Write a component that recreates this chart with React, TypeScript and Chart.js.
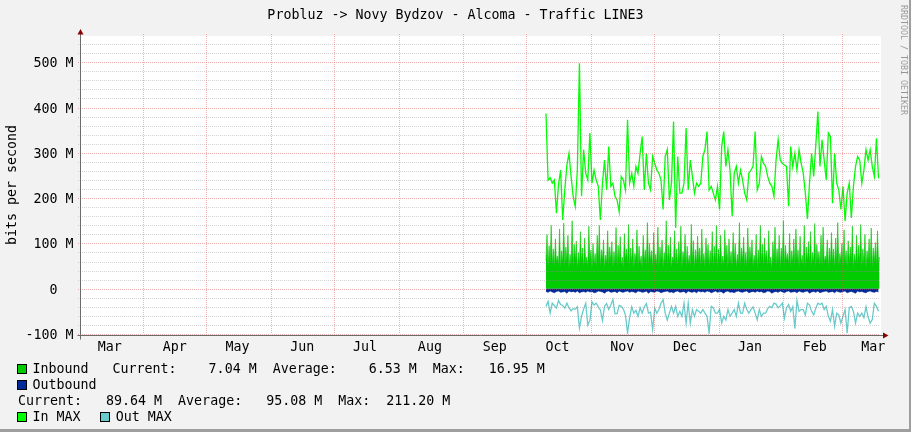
import React, { useEffect, useRef } from "react";
import { Chart, registerables } from "chart.js";

Chart.register(...registerables);

const TITLE = "Probluz -> Novy Bydzov - Alcoma - Traffic LINE3";
const Y_AXIS_TITLE = "bits per second";
const WATERMARK = "RRDTOOL / TOBI OETIKER";

// time axis: days counted from 1 March of the first year
const monthStartDays = [31, 61, 92, 122, 153, 184, 214, 245, 275, 306, 337, 365];
const monthLabels = ["Mar", "Apr", "May", "Jun", "Jul", "Aug", "Sep", "Oct", "Nov", "Dec", "Jan", "Feb", "Mar"];
const monthLabelDays = [15, 46, 76, 107, 137, 168, 199, 229, 260, 290, 321, 352, 380];

const yTickValues = [-100, 0, 100, 200, 300, 400, 500];
const yTickLabels = ["-100 M", "0  ", "100 M", "200 M", "300 M", "400 M", "500 M"];

const firstDay = 223.5; // first sample (~10 Oct)
const inboundStepDays = 0.5;
const dailyStepDays = 1;

// Inbound (M bits/s), two samples per day
const inbound = [
  62, 120, 48, 95, 55, 140, 52, 88, 47, 110, 58, 72, 50, 132, 46, 84,
  57, 145, 49, 92, 60, 118, 45, 76, 53, 150, 48, 98, 61, 105, 44, 80,
  52, 126, 58, 90, 47, 112, 55, 70, 49, 138, 60, 85, 46, 100, 54, 78,
  50, 118, 57, 140, 48, 86, 62, 108, 45, 74, 56, 128, 51, 92, 59, 104,
  47, 82, 55, 135, 49, 96, 58, 115, 52, 70, 46, 122, 60, 88, 53, 142,
  48, 90, 57, 110, 45, 78, 61, 130, 50, 94, 55, 72, 47, 118, 58, 86,
  52, 146, 49, 100, 60, 84, 46, 124, 56, 76, 51, 136, 48, 92, 62, 108,
  45, 80, 58, 150, 50, 96, 55, 114, 47, 70, 60, 128, 52, 88, 49, 104,
  57, 138, 46, 82, 61, 120, 48, 94, 54, 74, 50, 142, 58, 106, 45, 86,
  53, 116, 60, 90, 47, 132, 56, 78, 49, 112, 62, 98, 51, 84, 55, 126,
  48, 94, 57, 140, 46, 88, 59, 118, 52, 72, 50, 130, 61, 96, 47, 110,
  56, 82, 49, 124, 58, 100, 45, 76, 54, 146, 48, 90, 60, 114, 51, 80,
  47, 134, 55, 92, 62, 108, 49, 74, 57, 120, 46, 86, 53, 140, 58, 98,
  50, 112, 61, 84, 48, 128, 55, 70, 46, 104, 59, 136, 52, 88, 56, 118,
  45, 90, 58, 150, 49, 96, 60, 78, 53, 122, 47, 84, 57, 110, 50, 132,
  62, 86, 48, 116, 55, 74, 51, 140, 46, 92, 59, 104, 54, 126, 49, 80,
  57, 144, 47, 98, 60, 82, 52, 118, 48, 136, 56, 72, 61, 108, 45, 90,
  53, 124, 58, 88, 46, 112, 55, 146, 50, 78, 62, 100, 47, 130, 57, 84,
  49, 106, 56, 92, 60, 138, 45, 76, 54, 118, 51, 96, 58, 142, 48, 88,
  55, 120, 47, 84, 61, 110, 52, 134, 46, 90, 58, 102, 50, 128, 56, 70,
];

// Outbound (M bits/s, drawn below zero), daily
const outbound = [
  -6, -8, -5, -7, -9, -6, -5, -8, -7, -6, -10, -5, -7, -6, -8, -5, -9, -7, -6, -8,
  -5, -7, -6, -9, -8, -5, -6, -7, -10, -6, -5, -8, -7, -6, -9, -5, -7, -8, -6, -5,
  -8, -6, -7, -9, -5, -6, -8, -7, -5, -10, -6, -7, -8, -5, -6, -9, -7, -6, -5, -8,
  -7, -9, -6, -5, -8, -7, -6, -10, -5, -7, -8, -6, -9, -5, -7, -6, -8, -5, -6, -9,
  -7, -5, -8, -6, -7, -10, -6, -5, -8, -7, -9, -6, -5, -7, -8, -6, -5, -9, -7, -6,
  -8, -5, -7, -6, -9, -8, -5, -6, -10, -7, -6, -8, -5, -7, -9, -6, -5, -8, -7, -6,
  -9, -5, -7, -8, -6, -5, -10, -7, -6, -8, -5, -9, -7, -6, -5, -8, -7, -6, -9, -5,
  -7, -8, -6, -5, -9, -7, -6, -8, -10, -5, -7, -6, -8, -9, -6, -5, -7, -8, -6, -7,
];

// In MAX (M bits/s), daily
const inMax = [
  387, 240, 245, 233, 240, 167, 230, 262, 152, 218,
  273, 299, 248, 204, 182, 262, 498, 204, 307, 255,
  240, 344, 233, 262, 240, 226, 152, 233, 284, 218,
  314, 226, 233, 204, 196, 170, 248, 240, 218, 373,
  233, 255, 226, 270, 255, 299, 336, 218, 299, 233,
  218, 292, 277, 262, 255, 240, 175, 292, 307, 196,
  233, 369, 134, 292, 211, 211, 233, 355, 218, 284,
  248, 211, 233, 226, 233, 292, 307, 347, 218, 226,
  211, 196, 226, 175, 314, 347, 270, 307, 262, 160,
  255, 270, 233, 262, 240, 211, 196, 255, 262, 270,
  347, 218, 233, 292, 277, 270, 248, 233, 226, 204,
  284, 329, 284, 277, 273, 270, 182, 314, 270, 299,
  262, 307, 277, 255, 211, 154, 233, 299, 248, 317,
  391, 270, 329, 284, 240, 344, 336, 189, 299, 233,
  218, 175, 226, 149, 211, 233, 156, 226, 270, 292,
  284, 233, 262, 307, 284, 307, 270, 248, 332, 244,
];

// Out MAX (M bits/s, drawn below zero), daily
const outMax = [
  -39, -28, -54, -32, -37, -43, -26, -35, -37, -43,
  -32, -42, -49, -44, -45, -40, -87, -61, -45, -32,
  -80, -70, -29, -36, -32, -40, -47, -70, -39, -33,
  -46, -36, -24, -55, -55, -37, -39, -45, -58, -98,
  -64, -40, -54, -48, -61, -42, -54, -40, -33, -54,
  -52, -90, -43, -54, -46, -32, -24, -54, -69, -54,
  -39, -54, -39, -61, -50, -61, -32, -76, -32, -76,
  -46, -61, -46, -50, -54, -46, -54, -61, -98, -39,
  -42, -54, -54, -46, -76, -61, -69, -46, -61, -54,
  -46, -61, -32, -54, -54, -32, -46, -54, -46, -40,
  -54, -69, -46, -61, -54, -54, -44, -39, -42, -32,
  -34, -42, -38, -32, -65, -42, -35, -50, -40, -88,
  -26, -50, -46, -46, -58, -32, -36, -50, -58, -43,
  -32, -35, -32, -46, -39, -61, -72, -46, -83, -54,
  -58, -76, -61, -46, -98, -42, -39, -50, -76, -54,
  -61, -54, -64, -40, -62, -76, -68, -32, -39, -50,
];

const legendRow1 = "Inbound   Current:    7.04 M  Average:    6.53 M  Max:   16.95 M";
const legendRow2 = "Outbound";
const legendRow3 = "Current:   89.64 M  Average:   95.08 M  Max:  211.20 M";
const legendInMax = "In MAX";
const legendOutMax = "Out MAX";

const COLORS = {
  back: "#F2F2F2",
  canvas: "#FFFFFF",
  shadeB: "#9E9E9E",
  inbound: "#00CC00",
  outbound: "#002A97",
  inMax: "#00FF00",
  outMax: "#66CCCC",
  grid: "rgba(143,143,143,0.38)",
  mgrid: "rgba(222,80,80,0.45)",
  axis: "#6B6B6B",
  arrow: "#8A0000",
  font: "#000000",
  watermark: "rgba(0,0,0,0.38)",
};

const FONT = "13.3px 'DejaVu Sans Mono'";

const toPoints = (vals: number[], step: number) =>
  vals.map((v, i) => ({ x: firstDay + i * step, y: v }));

const rrdPlugin = {
  id: "rrdDecor",
  beforeDraw(chart: any) {
    const { ctx, chartArea, width, height } = chart;
    ctx.save();
    ctx.fillStyle = COLORS.back;
    ctx.fillRect(0, 0, width, height);
    ctx.fillStyle = COLORS.shadeB;
    ctx.fillRect(width - 2, 0, 2, height);
    ctx.fillRect(0, height - 3, width, 3);
    ctx.fillStyle = COLORS.canvas;
    ctx.fillRect(chartArea.left, chartArea.top, chartArea.right - chartArea.left + 1, chartArea.bottom - chartArea.top + 1);
    ctx.restore();
  },
  afterDatasetsDraw(chart: any) {
    const { ctx, chartArea, scales } = chart;
    const xs = scales.x;
    const ys = scales.y;
    ctx.save();
    ctx.lineWidth = 1;
    ctx.setLineDash([1, 1]);
    // horizontal grid: minor every 20 M, major every 100 M
    for (let v = -100; v <= ys.max; v += 20) {
      const y = Math.round(ys.getPixelForValue(v)) + 0.5;
      const major = v % 100 === 0;
      ctx.strokeStyle = major ? COLORS.mgrid : COLORS.grid;
      ctx.beginPath();
      ctx.moveTo(chartArea.left - 3, y);
      ctx.lineTo(chartArea.right, y);
      ctx.stroke();
    }
    // vertical grid at month boundaries
    ctx.strokeStyle = COLORS.mgrid;
    monthStartDays.forEach((d) => {
      const x = Math.round(xs.getPixelForValue(d)) + 0.5;
      ctx.beginPath();
      ctx.moveTo(x, chartArea.top - 2);
      ctx.lineTo(x, chartArea.bottom);
      ctx.stroke();
    });
    ctx.setLineDash([]);
    // axes
    ctx.strokeStyle = COLORS.axis;
    const ax = chartArea.left - 0.5;
    const ay = chartArea.bottom + 1.5;
    ctx.beginPath();
    ctx.moveTo(ax, chartArea.top - 2);
    ctx.lineTo(ax, ay + 4);
    ctx.stroke();
    ctx.beginPath();
    ctx.moveTo(ax - 3, ay);
    ctx.lineTo(chartArea.right + 3, ay);
    ctx.stroke();
    // arrows
    ctx.fillStyle = COLORS.arrow;
    ctx.beginPath();
    ctx.moveTo(ax, chartArea.top - 7);
    ctx.lineTo(ax - 3, chartArea.top - 1.5);
    ctx.lineTo(ax + 3, chartArea.top - 1.5);
    ctx.closePath();
    ctx.fill();
    ctx.beginPath();
    ctx.moveTo(chartArea.right + 8.5, ay);
    ctx.lineTo(chartArea.right + 3, ay - 3);
    ctx.lineTo(chartArea.right + 3, ay + 3);
    ctx.closePath();
    ctx.fill();
    ctx.restore();
  },
  afterDraw(chart: any) {
    const { ctx, chartArea, scales, width } = chart;
    const xs = scales.x;
    const ys = scales.y;
    ctx.save();
    ctx.fillStyle = COLORS.font;
    ctx.font = FONT;
    // title
    ctx.textAlign = "center";
    ctx.textBaseline = "alphabetic";
    ctx.fillText(TITLE, 455.5, 19);
    // y tick labels
    ctx.textAlign = "right";
    yTickValues.forEach((v, i) => {
      const y = Math.round(ys.getPixelForValue(v)) + 0.5;
      ctx.fillText(yTickLabels[i], chartArea.left - 7.5, y + 4.8);
    });
    // x labels
    ctx.textAlign = "center";
    monthLabels.forEach((lab, i) => {
      const x = xs.getPixelForValue(monthLabelDays[i]);
      ctx.fillText(lab, x, chartArea.bottom + 17);
    });
    // y axis title
    ctx.save();
    ctx.translate(15.5, (chartArea.top + chartArea.bottom) / 2);
    ctx.rotate(-Math.PI / 2);
    ctx.textAlign = "center";
    ctx.fillText(Y_AXIS_TITLE, 0, 0);
    ctx.restore();
    // watermark
    ctx.save();
    ctx.fillStyle = COLORS.watermark;
    ctx.font = "8.3px 'DejaVu Sans Mono'";
    ctx.translate(width - 8, 5);
    ctx.rotate(Math.PI / 2);
    ctx.textAlign = "left";
    ctx.textBaseline = "middle";
    ctx.fillText(WATERMARK, 0, 0);
    ctx.restore();
    // legend
    const swatch = (x: number, y: number, color: string) => {
      ctx.fillStyle = color;
      ctx.fillRect(x, y, 10, 10);
      ctx.strokeStyle = "#000000";
      ctx.lineWidth = 1;
      ctx.strokeRect(x + 0.5, y + 0.5, 9, 9);
    };
    ctx.textAlign = "left";
    ctx.textBaseline = "alphabetic";
    swatch(17, 364, COLORS.inbound);
    ctx.fillStyle = COLORS.font;
    ctx.fillText(legendRow1, 32.5, 372.5);
    swatch(17, 380, COLORS.outbound);
    ctx.fillStyle = COLORS.font;
    ctx.fillText(legendRow2, 32.5, 388.5);
    ctx.fillText(legendRow3, 18, 404.5);
    swatch(17, 412, COLORS.inMax);
    ctx.fillStyle = COLORS.font;
    ctx.fillText(legendInMax, 32.5, 420.5);
    swatch(100, 412, COLORS.outMax);
    ctx.fillStyle = COLORS.font;
    ctx.fillText(legendOutMax, 115.8, 420.5);
    ctx.restore();
  },
};

export default function App() {
  const ref = useRef<HTMLCanvasElement | null>(null);
  useEffect(() => {
    document.body.style.margin = "0";
    const canvas = ref.current;
    if (!canvas) return;
    const chart = new Chart(canvas, {
      type: "line",
      data: {
        datasets: [
          {
            label: "Inbound",
            data: toPoints(inbound, inboundStepDays),
            backgroundColor: COLORS.inbound,
            borderColor: COLORS.inbound,
            borderWidth: 0.6,
            fill: "origin",
            pointRadius: 0,
            order: 4,
          },
          {
            label: "Outbound",
            data: toPoints(outbound, dailyStepDays),
            backgroundColor: COLORS.outbound,
            borderColor: COLORS.outbound,
            borderWidth: 0.6,
            fill: "origin",
            pointRadius: 0,
            order: 3,
          },
          {
            label: "In MAX",
            data: toPoints(inMax, dailyStepDays),
            borderColor: COLORS.inMax,
            backgroundColor: COLORS.inMax,
            borderWidth: 1.3,
            fill: false,
            pointRadius: 0,
            order: 2,
          },
          {
            label: "Out MAX",
            data: toPoints(outMax, dailyStepDays),
            borderColor: COLORS.outMax,
            backgroundColor: COLORS.outMax,
            borderWidth: 1.3,
            fill: false,
            pointRadius: 0,
            order: 1,
          },
        ],
      },
      options: {
        responsive: false,
        animation: false,
        devicePixelRatio: 1,
        layout: { padding: { left: 81, right: 31, top: 36, bottom: 98 } },
        scales: {
          x: { type: "linear", min: 1.2, max: 383.2, display: false },
          y: { type: "linear", min: -100, max: 558, display: false },
        },
        elements: { line: { tension: 0 } },
        plugins: { legend: { display: false }, tooltip: { enabled: false } },
        events: [],
      },
      plugins: [rrdPlugin],
    } as any);
    return () => chart.destroy();
  }, []);
  return <canvas ref={ref} width={911} height={432} style={{ display: "block", width: 911, height: 432 }} />;
}
